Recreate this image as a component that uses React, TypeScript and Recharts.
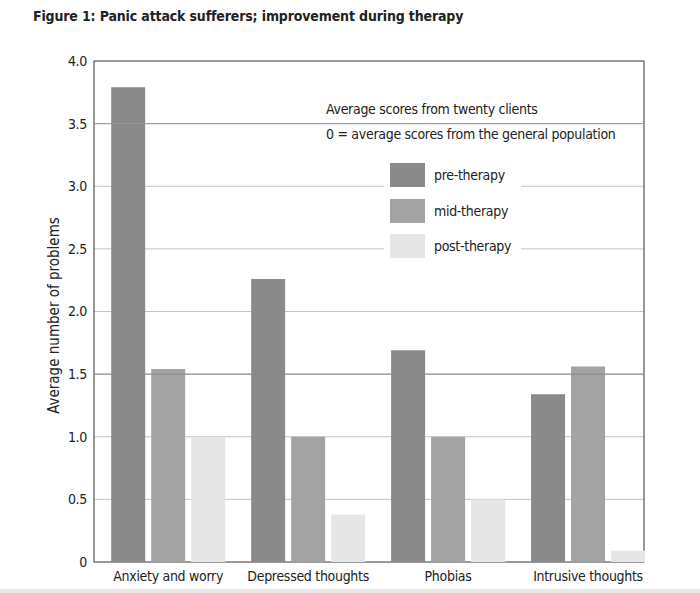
import { BarChart, Bar, XAxis, YAxis, CartesianGrid, ReferenceLine, ReferenceArea, Legend } from "recharts";

const categories = ["Anxiety and worry", "Depressed thoughts", "Phobias", "Intrusive thoughts"];
const preTherapy = [3.79, 2.26, 1.69, 1.34];
const midTherapy = [1.54, 1.0, 1.0, 1.56];
const postTherapy = [1.0, 0.38, 0.5, 0.09];
const seriesNames = ["pre-therapy", "mid-therapy", "post-therapy"];
const yTicks = [0, 0.5, 1, 1.5, 2, 2.5, 3, 3.5, 4];
const notes = ["Average scores from twenty clients", "0 = average scores from the general population"];

const data = categories.map((name, i) => ({
  idx: i,
  name,
  pre: preTherapy[i],
  mid: midTherapy[i],
  post: postTherapy[i],
}));

const FONT = '"Liberation Sans Narrow", "DejaVu Sans Condensed", "Roboto Condensed", sans-serif';
const TEXT = "#222";
const tickStyle = { fill: TEXT, fontSize: 14, fontFamily: FONT, style: { letterSpacing: "-0.3px" } };

// notes + swatch box, sits inside the plot like in the original figure
const LegendBox = (props: any) => {
  const payload = [...(props.payload || [])].sort(
    (a: any, b: any) => seriesNames.indexOf(a.value) - seriesNames.indexOf(b.value)
  );
  return (
    <div style={{ fontFamily: FONT, fontSize: 14, letterSpacing: "-0.3px", color: TEXT, textAlign: "left" }}>
      {notes.map((n) => (
        <div key={n} style={{ height: 22, lineHeight: "22px", marginBottom: 3, whiteSpace: "nowrap" }}>
          {n}
        </div>
      ))}
      <div style={{ marginLeft: 58, marginTop: 12, width: 137, background: "#fff", padding: "6px 0 4px 0" }}>
        {payload.map((p: any, i: number) => (
          <div
            key={p.value}
            style={{ display: "flex", alignItems: "center", height: 24, marginBottom: i < payload.length - 1 ? 11.5 : 0 }}
          >
            <span style={{ display: "inline-block", width: 35, height: 24, marginLeft: 6, background: p.color }} />
            <span style={{ marginLeft: 9, whiteSpace: "nowrap" }}>{p.value}</span>
          </div>
        ))}
      </div>
    </div>
  );
};

export default function App() {
  return (
    <div style={{ position: "absolute", left: 0, top: 0, width: 700, height: 593, background: "#fff" }}>
      <div
        style={{
          position: "absolute",
          left: 33,
          top: 8,
          fontFamily: FONT,
          fontWeight: "bold",
          fontSize: 14,
          letterSpacing: "-0.15px",
          color: TEXT,
          whiteSpace: "nowrap",
        }}
      >
        Figure 1: Panic attack sufferers; improvement during therapy
      </div>
      <BarChart width={700} height={593} data={data} margin={{ top: 61, right: 56, bottom: 0, left: 34 }} barGap={6}>
        <CartesianGrid vertical={false} stroke="#c4c4c4" />
        <ReferenceLine y={1.5} stroke="#888" />
        <ReferenceLine y={3.5} stroke="#999" />
        <XAxis
          type="number"
          dataKey="idx"
          domain={[-0.53, 3.4]}
          ticks={[0, 1, 2, 3]}
          interval={0}
          tickFormatter={(v: number) => categories[v]}
          axisLine={false}
          tickLine={false}
          tickSize={0}
          tickMargin={9}
          height={31}
          tick={tickStyle}
        />
        <YAxis
          domain={[0, 4]}
          ticks={yTicks}
          interval={0}
          width={60}
          tickFormatter={(v: number) => (v === 0 ? "0" : v.toFixed(1))}
          axisLine={false}
          tickLine={false}
          tickSize={0}
          tickMargin={7}
          tick={tickStyle}
          label={{
            value: "Average number of problems",
            angle: -90,
            position: "center",
            dx: -10,
            dy: 4,
            style: { fill: TEXT, fontSize: 15, fontFamily: FONT },
          }}
        />
        <Bar dataKey="pre" name={seriesNames[0]} fill="#8a8a8a" barSize={34} isAnimationActive={false} />
        <Bar dataKey="mid" name={seriesNames[1]} fill="#a3a3a3" barSize={34} isAnimationActive={false} />
        <Bar dataKey="post" name={seriesNames[2]} fill="#e6e6e6" barSize={34} isAnimationActive={false} />
        <ReferenceArea x1={-0.53} x2={3.4} y1={0} y2={4} fill="none" stroke="#555" strokeWidth={1.2} ifOverflow="visible" />
        <Legend
          layout="horizontal"
          verticalAlign="middle"
          align="center"
          content={<LegendBox />}
          wrapperStyle={{ left: 326, top: 98, width: 320 }}
        />
      </BarChart>
      <div style={{ position: "absolute", left: 0, top: 589, width: 700, height: 4, background: "#e8e8e8" }} />
    </div>
  );
}
